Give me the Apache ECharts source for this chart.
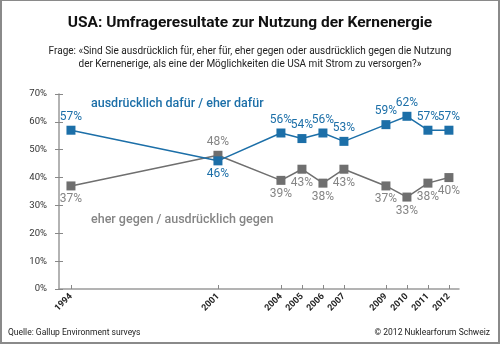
<!DOCTYPE html>
<html><head><meta charset="utf-8">
<script src="https://cdn.jsdelivr.net/npm/echarts@6/dist/echarts.min.js"></script>
<style>html,body{margin:0;padding:0;background:#fff}#c{width:500px;height:344px;box-sizing:border-box;border:1px solid #8a8a8a;border-left-width:2px;border-right-width:2px;border-bottom-width:2px}</style>
</head><body><div id="c"></div>
<script>
const years = [1994, 2001, 2004, 2005, 2006, 2007, 2009, 2010, 2011, 2012];
const dafuer = [57, 46, 56, 54, 56, 53, 59, 62, 57, 57];
const gegen = [37, 48, 39, 43, 38, 43, 37, 33, 38, 40];
const yTicks = [0, 10, 20, 30, 40, 50, 60, 70];
const seriesNames = ['ausdrücklich dafür / eher dafür', 'eher gegen / ausdrücklich gegen'];

const BLUE = '#1c6fa8', GREY = '#6f6f6f', GREYL = '#858585';
const FONT = 'Roboto';

function mk(vals, flipYear, basePos) {
  return vals.map((v, i) => {
    const d = { value: [years[i], v] };
    if (years[i] === flipYear) d.label = { position: basePos === 'top' ? 'bottom' : 'top' };
    return d;
  });
}

const chart = echarts.init(document.getElementById('c'), null, { renderer: 'canvas' });
chart.setOption({
  animation: false,
  textStyle: { fontFamily: FONT },
  grid: { left: 57, right: 39, top: 93, bottom: 53 },
  xAxis: {
    type: 'value', min: 1993.43, max: 2012.48,
    splitLine: { show: false },
    axisLine: { lineStyle: { color: '#9a9a9a', width: 1.5 } },
    axisTick: { customValues: years, inside: true, length: 4, lineStyle: { color: '#888' } },
    axisLabel: { customValues: years, formatter: v => String(v), rotate: 45, fontSize: 9, fontWeight: 'bold', color: '#222', margin: 6, fontFamily: FONT }
  },
  yAxis: [{
    type: 'value', min: 0, max: 70, interval: 10,
    splitLine: { show: false },
    axisLine: { show: true, lineStyle: { color: '#9a9a9a', width: 1.5 } },
    axisTick: { show: true, length: 4, lineStyle: { color: '#888' } },
    axisLabel: { formatter: '{value}%', fontSize: 9.5, color: '#333', margin: 12, fontFamily: FONT }
  }, {
    type: 'value', min: 0, max: 70, interval: 10, position: 'left',
    splitLine: { show: false },
    axisLine: { show: false },
    axisTick: { show: true, inside: true, length: 4, lineStyle: { color: '#888' } },
    axisLabel: { show: false }
  }],
  series: [{
    name: seriesNames[1], type: 'line', data: mk(gegen, 2001, 'bottom'),
    symbol: 'rect', symbolSize: 9, z: 2,
    lineStyle: { color: GREY, width: 1.5 }, itemStyle: { color: GREY },
    label: { show: true, position: 'bottom', distance: 3, formatter: p => p.value[1] + '%', color: GREYL, fontSize: 12, fontFamily: FONT }
  }, {
    name: seriesNames[0], type: 'line', data: mk(dafuer, 2001, 'top'),
    symbol: 'rect', symbolSize: 9, z: 3,
    lineStyle: { color: BLUE, width: 1.5 }, itemStyle: { color: BLUE },
    label: { show: true, position: 'top', distance: 3, formatter: p => p.value[1] + '%', color: BLUE, fontSize: 12, fontFamily: FONT }
  }],
  graphic: [
    { type: 'text', left: 'center', top: 14, style: { text: 'USA: Umfrageresultate zur Nutzung der Kernenergie', font: 'bold 15.5px ' + FONT, fill: '#111' } },
    { type: 'text', left: 'center', top: 45, style: { text: 'Frage: «Sind Sie ausdrücklich für, eher für, eher gegen oder ausdrücklich gegen die Nutzung', font: '10px ' + FONT, fill: '#222' } },
    { type: 'text', left: 'center', top: 58, style: { text: 'der Kernenerige, als eine der Möglichkeiten die USA mit Strom zu versorgen?»', font: '10px ' + FONT, fill: '#222' } },
    { type: 'text', left: 89, top: 96, style: { text: seriesNames[0], font: '500 12.5px ' + FONT, fill: BLUE } },
    { type: 'text', left: 89, top: 212, style: { text: seriesNames[1], font: '500 12.5px ' + FONT, fill: GREYL } },
    { type: 'text', left: 6, top: 327, style: { text: 'Quelle: Gallup Environment surveys', font: '8.5px ' + FONT, fill: '#222' } },
    { type: 'text', right: 8, top: 327, style: { text: '© 2012 Nuklearforum Schweiz', font: '8.5px ' + FONT, fill: '#222' } }
  ]
});
</script></body></html>
